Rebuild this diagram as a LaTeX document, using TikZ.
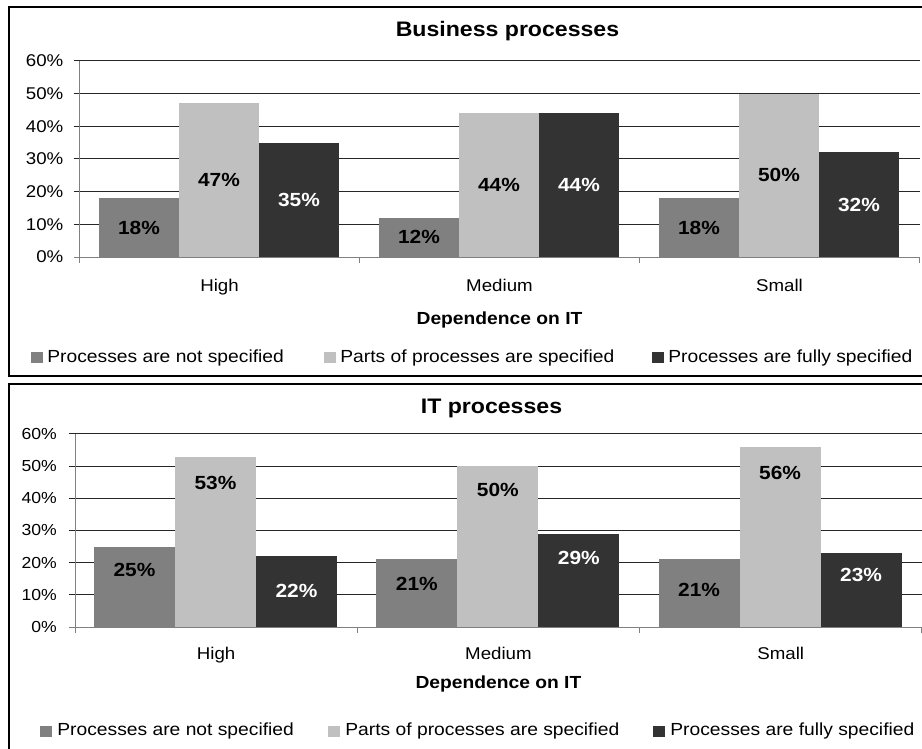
\documentclass[tikz,border=0pt]{standalone}
\usepackage{fontspec}
\setmainfont{Liberation Sans}[FakeStretch=1.1]
\usetikzlibrary{positioning}
\definecolor{barA}{HTML}{808080}
\definecolor{barB}{HTML}{C0C0C0}
\definecolor{barC}{HTML}{333333}
\tikzset{
    panelframe/.style={line width=2pt, black},
    gridline/.style={line width=1pt, black!85},
    axisline/.style={line width=1pt, barA},
    ticklab/.style={font=\fontsize{17}{17}\selectfont, anchor=east, inner sep=0pt},
    catlab/.style={font=\fontsize{17}{17}\selectfont, anchor=base, inner sep=0pt},
    axistitle/.style={font=\bfseries\fontsize{17.5}{17.5}\selectfont, anchor=base, inner sep=0pt},
    charttitle/.style={font=\bfseries\fontsize{21}{21}\selectfont, anchor=base, inner sep=0pt},
    barlab/.style={font=\bfseries\fontsize{19}{19}\selectfont, inner sep=0pt},
    legkey/.style={minimum width=12pt, minimum height=11pt, inner sep=0pt},
    legtext/.style={font=\fontsize{17.5}{17.5}\selectfont, inner sep=0pt}
}
\begin{document}
\begin{tikzpicture}[x=1pt, y=1pt]
    \useasboundingbox (0,0) rectangle (922,-749);
    \fill[white] (0,0) rectangle (922,-749);
    % ---- Business processes ----
    \draw[panelframe] (922,-7.5) -- (8.5,-7.5) -- (8.5,-375.5) -- (922,-375.5);
    \node[charttitle] (t1) at (507.5,-37) {Business processes};
    \begin{scope}[shift={(79.5,-257)}]
    \def \u {3.267}
    \def \cw {280}
    \foreach \g in {10,20,...,60}{
    \draw[gridline] (-6,\g*\u) -- (3*\cw,\g*\u);}
    \foreach \g in {0,10,...,60}{
    \node[ticklab] (ya\g) at (-16,\g*\u) {\g\%};}
    \foreach \c/\va/\vb/\vc in {0/18/47/35, 1/12/44/44, 2/18/50/32}{
    \coordinate (ga\c) at (\c*\cw+19.5,0);
    \fill[barA] (ga\c) rectangle ++(80,\va*\u);
    \fill[barB] ([xshift=80]ga\c) rectangle ++(80,\vb*\u);
    \fill[barC] ([xshift=160]ga\c) rectangle ++(80,\vc*\u);
    \node[barlab] (pa\c) at ([xshift=40]ga\c |- 0,\va*\u/2) {\va\%};
    \node[barlab] (qa\c) at ([xshift=120]ga\c |- 0,\vb*\u/2) {\vb\%};
    \node[barlab, white] (ra\c) at ([xshift=200]ga\c |- 0,\vc*\u/2) {\vc\%};
    }
    \draw[axisline] (0,0) -- (0,60*\u);
    \draw[axisline] (-6,0) -- (3*\cw,0);
    \foreach \c in {0,...,3}{
    \draw[axisline] (\c*\cw,0) -- (\c*\cw,-6);}
    \node[catlab] (ca0) at (0.5*\cw,-34) {High};
    \node[catlab] (ca1) at (1.5*\cw,-34) {Medium};
    \node[catlab] (ca2) at (2.5*\cw,-34) {Small};
    \node[axistitle] (xa) at (1.5*\cw,-67) {Dependence on IT};
    \end{scope}
    \node[legkey, fill=barA] (ka1) at (37,-357.5) {};
    \node[legtext, right=4pt of ka1] (la1) {Processes are not specified};
    \node[legkey, fill=barB] (ka2) at (330,-357.5) {};
    \node[legtext, right=4pt of ka2] (la2) {Parts of processes are specified};
    \node[legkey, fill=barC] (ka3) at (658,-357.5) {};
    \node[legtext, right=4pt of ka3] (la3) {Processes are fully specified};
    % ---- IT processes ----
    \draw[panelframe] (922,-383.5) -- (8.5,-383.5) -- (8.5,-749);
    \node[charttitle] (t2) at (491.5,-413) {IT processes};
    \begin{scope}[shift={(75,-627)}]
    \def \u {3.217}
    \def \cw {282.3}
    \foreach \g in {10,20,...,60}{
    \draw[gridline] (-6,\g*\u) -- (3*\cw,\g*\u);}
    \foreach \g in {0,10,...,60}{
    \node[ticklab, font=\fontsize{16}{16}\selectfont] (yb\g) at (-18,\g*\u) {\g\%};}
    \foreach \c/\va/\ya/\vb/\yb/\vc/\yc in {0/25/57/53/144/22/36, 1/21/43/50/137/29/69, 2/21/37/56/154/23/52}{
    \coordinate (gb\c) at (\c*\cw+19,0);
    \fill[barA] (gb\c) rectangle ++(81,\va*\u);
    \fill[barB] ([xshift=81]gb\c) rectangle ++(81,\vb*\u);
    \fill[barC] ([xshift=162]gb\c) rectangle ++(81,\vc*\u);
    \node[barlab] (pb\c) at ([xshift=40.5]gb\c |- 0,\ya) {\va\%};
    \node[barlab] (qb\c) at ([xshift=121.5]gb\c |- 0,\yb) {\vb\%};
    \node[barlab, white] (rb\c) at ([xshift=202.5]gb\c |- 0,\yc) {\vc\%};
    }
    \draw[axisline] (0,0) -- (0,60*\u);
    \draw[axisline] (-6,0) -- (3*\cw,0);
    \foreach \c in {0,...,3}{
    \draw[axisline] (\c*\cw,0) -- (\c*\cw,-6);}
    \node[catlab] (cb0) at (0.5*\cw,-32) {High};
    \node[catlab] (cb1) at (1.5*\cw,-32) {Medium};
    \node[catlab] (cb2) at (2.5*\cw,-32) {Small};
    \node[axistitle] (xb) at (1.5*\cw,-61) {Dependence on IT};
    \end{scope}
    \node[legkey, fill=barA] (kb1) at (46,-731) {};
    \node[legtext, right=5pt of kb1] (lb1) {Processes are not specified};
    \node[legkey, fill=barB] (kb2) at (334,-731) {};
    \node[legtext, right=5pt of kb2] (lb2) {Parts of processes are specified};
    \node[legkey, fill=barC] (kb3) at (659,-731) {};
    \node[legtext, right=5pt of kb3] (lb3) {Processes are fully specified};
\end{tikzpicture}
\end{document}
